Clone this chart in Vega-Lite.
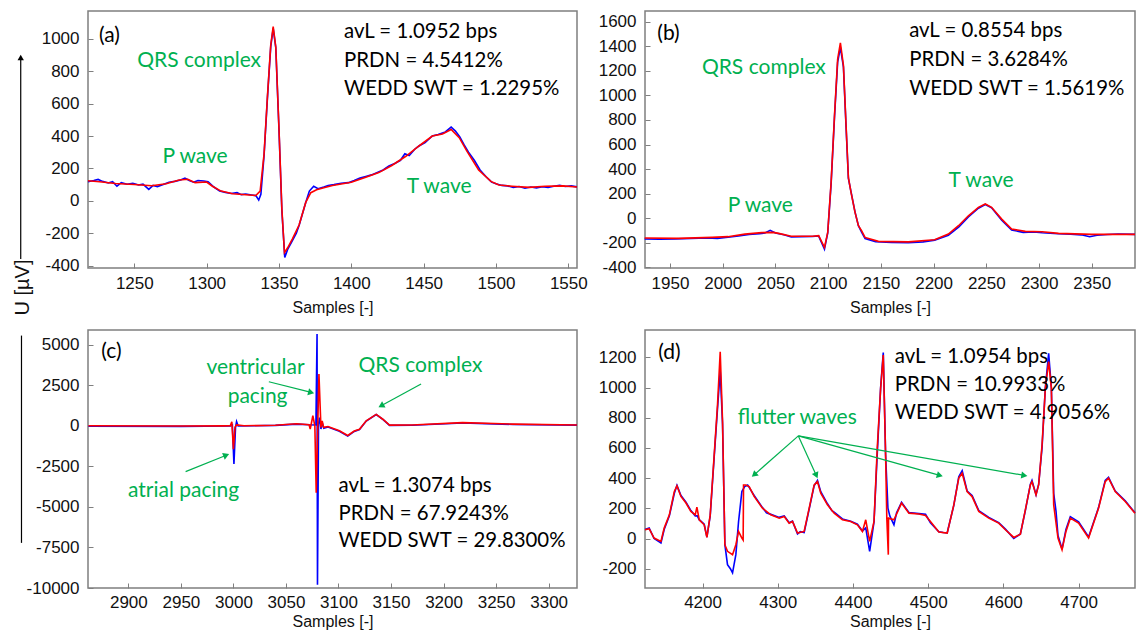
{
"$schema": "https://vega.github.io/schema/vega-lite/v6.json",
"padding": {"left": 11, "top": 10, "right": 5, "bottom": 2},
"config": {
 "font": "Liberation Sans",
 "view": {"stroke": "#7f7f7f", "strokeWidth": 1.5},
 "axis": {"grid": false, "domain": false, "tickSize": -5, "tickColor": "#7f7f7f", "labelFont": "Liberation Sans", "labelFontSize": 17, "labelColor": "#111111", "titleFont": "Liberation Sans", "titleFontSize": 16, "titleFontWeight": "normal", "titleColor": "#111111", "labelOverlap": false, "labelFlush": false, "labelExpr": "'' + datum.value"},
 "axisX": {"labelPadding": 12, "titlePadding": 8},
 "axisY": {"labelPadding": 14},
 "text": {"font": "Lato", "fontSize": 21}
},
"datasets": {
 "a_red": [{"x":1218,"y":124},{"x":1226,"y":118},{"x":1237,"y":107},{"x":1250,"y":101},{"x":1262,"y":93},{"x":1272,"y":105},{"x":1281,"y":128},{"x":1287,"y":133},{"x":1292,"y":112},{"x":1300,"y":116},{"x":1304,"y":90},{"x":1310,"y":60},{"x":1318,"y":43},{"x":1327,"y":37},{"x":1334,"y":33},{"x":1337,"y":60},{"x":1339.7,"y":290},{"x":1342,"y":640},{"x":1344.3,"y":960},{"x":1346,"y":1075},{"x":1347.8,"y":950},{"x":1350,"y":450},{"x":1352,"y":-50},{"x":1353.8,"y":-320},{"x":1356,"y":-290},{"x":1359.3,"y":-235},{"x":1363.9,"y":-150},{"x":1368.5,"y":-10},{"x":1372,"y":50},{"x":1376,"y":68},{"x":1381,"y":80},{"x":1387,"y":95},{"x":1400,"y":115},{"x":1410,"y":146},{"x":1419,"y":174},{"x":1428,"y":218},{"x":1437.7,"y":275},{"x":1447,"y":340},{"x":1456,"y":400},{"x":1463,"y":413},{"x":1469,"y":440},{"x":1474.6,"y":390},{"x":1480,"y":305},{"x":1488,"y":190},{"x":1496.5,"y":120},{"x":1502,"y":97},{"x":1511,"y":90},{"x":1523,"y":83},{"x":1534,"y":90},{"x":1546,"y":92},{"x":1556,"y":85}],
 "a_blue": [{"x":1218,"y":118},{"x":1222,"y":125},{"x":1225,"y":132},{"x":1228,"y":120},{"x":1232,"y":110},{"x":1235,"y":118},{"x":1238,"y":90},{"x":1241,"y":112},{"x":1245,"y":102},{"x":1249,"y":108},{"x":1253,"y":98},{"x":1256,"y":103},{"x":1260,"y":70},{"x":1263,"y":95},{"x":1266,"y":88},{"x":1270,"y":100},{"x":1274,"y":115},{"x":1278,"y":120},{"x":1282,"y":128},{"x":1285,"y":140},{"x":1288,"y":125},{"x":1291,"y":115},{"x":1294,"y":125},{"x":1298,"y":122},{"x":1301,"y":118},{"x":1305,"y":85},{"x":1309,"y":60},{"x":1313,"y":52},{"x":1317,"y":45},{"x":1321,"y":50},{"x":1324,"y":38},{"x":1327,"y":42},{"x":1331,"y":36},{"x":1334,"y":32},{"x":1336,"y":5},{"x":1337.5,"y":40},{"x":1339.7,"y":280},{"x":1342,"y":630},{"x":1344.3,"y":950},{"x":1346,"y":1065},{"x":1347.8,"y":945},{"x":1350,"y":440},{"x":1352,"y":-60},{"x":1354,"y":-350},{"x":1356,"y":-300},{"x":1359,"y":-250},{"x":1362,"y":-200},{"x":1364,"y":-150},{"x":1368.5,"y":-10},{"x":1371,"y":60},{"x":1374,"y":90},{"x":1377,"y":75},{"x":1381,"y":85},{"x":1384,"y":95},{"x":1388,"y":100},{"x":1393,"y":108},{"x":1398,"y":112},{"x":1402,"y":125},{"x":1406,"y":140},{"x":1410,"y":150},{"x":1414,"y":160},{"x":1418,"y":175},{"x":1422,"y":190},{"x":1426,"y":215},{"x":1430,"y":230},{"x":1434,"y":250},{"x":1437,"y":290},{"x":1440,"y":280},{"x":1444,"y":320},{"x":1447,"y":340},{"x":1451,"y":360},{"x":1456,"y":400},{"x":1460,"y":410},{"x":1465,"y":425},{"x":1469,"y":455},{"x":1472,"y":430},{"x":1475,"y":395},{"x":1478,"y":345},{"x":1481,"y":300},{"x":1485,"y":250},{"x":1489,"y":190},{"x":1493,"y":150},{"x":1497,"y":115},{"x":1500,"y":105},{"x":1504,"y":95},{"x":1508,"y":92},{"x":1512,"y":82},{"x":1516,"y":88},{"x":1520,"y":78},{"x":1524,"y":85},{"x":1528,"y":80},{"x":1532,"y":87},{"x":1536,"y":82},{"x":1540,"y":90},{"x":1544,"y":95},{"x":1548,"y":88},{"x":1552,"y":92},{"x":1556,"y":86}],
 "b_red": [{"x":1926,"y":-161},{"x":1958,"y":-164},{"x":1990,"y":-156},{"x":2005,"y":-150},{"x":2021,"y":-129},{"x":2037,"y":-117},{"x":2048,"y":-115},{"x":2053,"y":-123},{"x":2065,"y":-147},{"x":2085,"y":-147},{"x":2091,"y":-142},{"x":2096.5,"y":-237},{"x":2099.6,"y":-115},{"x":2102.8,"y":292},{"x":2106,"y":835},{"x":2109,"y":1296},{"x":2111.6,"y":1427},{"x":2114.5,"y":1242},{"x":2117,"y":753},{"x":2119.2,"y":330},{"x":2121.7,"y":211},{"x":2125.5,"y":48},{"x":2128.7,"y":-61},{"x":2131.8,"y":-102},{"x":2135,"y":-156},{"x":2147.6,"y":-188},{"x":2176,"y":-192},{"x":2201,"y":-175},{"x":2214,"y":-129},{"x":2223.6,"y":-61},{"x":2233,"y":20},{"x":2242.5,"y":89},{"x":2249,"y":116},{"x":2255,"y":89},{"x":2264.6,"y":-7},{"x":2274,"y":-88},{"x":2287,"y":-107},{"x":2303,"y":-110},{"x":2318.5,"y":-123},{"x":2350,"y":-131},{"x":2391,"y":-131}],
 "b_blue": [{"x":1926,"y":-169},{"x":1940,"y":-170},{"x":1955,"y":-168},{"x":1970,"y":-165},{"x":1985,"y":-160},{"x":1995,"y":-164},{"x":2005,"y":-155},{"x":2015,"y":-145},{"x":2025,"y":-132},{"x":2035,"y":-125},{"x":2040,"y":-120},{"x":2045,"y":-98},{"x":2050,"y":-120},{"x":2058,"y":-135},{"x":2065,"y":-152},{"x":2075,"y":-150},{"x":2085,"y":-148},{"x":2091,"y":-145},{"x":2096.5,"y":-251},{"x":2099.6,"y":-120},{"x":2102.8,"y":280},{"x":2106,"y":820},{"x":2109,"y":1270},{"x":2111.6,"y":1390},{"x":2114.5,"y":1230},{"x":2117,"y":740},{"x":2119.2,"y":325},{"x":2121.7,"y":215},{"x":2125.5,"y":50},{"x":2128.7,"y":-60},{"x":2131.8,"y":-115},{"x":2135,"y":-165},{"x":2145,"y":-190},{"x":2160,"y":-198},{"x":2176,"y":-200},{"x":2190,"y":-192},{"x":2201,"y":-178},{"x":2214,"y":-138},{"x":2224,"y":-70},{"x":2233,"y":10},{"x":2242.5,"y":82},{"x":2249,"y":112},{"x":2255,"y":85},{"x":2264.6,"y":-15},{"x":2274,"y":-95},{"x":2285,"y":-115},{"x":2295,"y":-112},{"x":2303,"y":-118},{"x":2318,"y":-126},{"x":2330,"y":-130},{"x":2340,"y":-135},{"x":2348,"y":-150},{"x":2355,"y":-138},{"x":2365,"y":-132},{"x":2375,"y":-128},{"x":2391,"y":-131}],
 "c_red": [{"x":2862,"y":0},{"x":2950,"y":-20},{"x":2990,"y":-10},{"x":2997,"y":0},{"x":2998.5,"y":250},{"x":3000,"y":-1450},{"x":3001.5,"y":-100},{"x":3003,"y":50},{"x":3010,"y":0},{"x":3040,"y":30},{"x":3060,"y":120},{"x":3072,"y":60},{"x":3073.1,"y":-210},{"x":3075.6,"y":615},{"x":3077.5,"y":0},{"x":3078.8,"y":-4130},{"x":3081.4,"y":3190},{"x":3083.3,"y":-100},{"x":3084.5,"y":300},{"x":3085.8,"y":-100},{"x":3090,"y":-50},{"x":3100.9,"y":-315},{"x":3108.8,"y":-600},{"x":3115,"y":-330},{"x":3120,"y":-220},{"x":3126.4,"y":300},{"x":3135.9,"y":700},{"x":3142.2,"y":400},{"x":3148.6,"y":40},{"x":3170,"y":50},{"x":3218,"y":190},{"x":3266,"y":100},{"x":3327,"y":50}],
 "c_blue": [{"x":2862,"y":-30},{"x":2950,"y":-40},{"x":2997,"y":-20},{"x":2999,"y":50},{"x":3000.5,"y":-2350},{"x":3002,"y":-100},{"x":3003,"y":250},{"x":3004.5,"y":-20},{"x":3040,"y":20},{"x":3060,"y":100},{"x":3072,"y":60},{"x":3078.5,"y":50},{"x":3079.6,"y":5650},{"x":3080,"y":-9800},{"x":3081,"y":100},{"x":3082,"y":500},{"x":3083.3,"y":-200},{"x":3084.5,"y":200},{"x":3086,"y":-150},{"x":3090,"y":-80},{"x":3100.9,"y":-340},{"x":3108.8,"y":-640},{"x":3115,"y":-350},{"x":3120,"y":-230},{"x":3126.4,"y":290},{"x":3135.9,"y":690},{"x":3142.2,"y":390},{"x":3148.6,"y":20},{"x":3170,"y":30},{"x":3218,"y":170},{"x":3266,"y":80},{"x":3327,"y":40}],
 "d_red": [{"x":4123.5,"y":58},{"x":4129,"y":65},{"x":4135.6,"y":3},{"x":4144.7,"y":-19},{"x":4149,"y":69},{"x":4155.9,"y":157},{"x":4162.5,"y":312},{"x":4166,"y":349},{"x":4171.3,"y":279},{"x":4178,"y":235},{"x":4184.5,"y":179},{"x":4190.3,"y":157},{"x":4192.5,"y":208},{"x":4195.6,"y":124},{"x":4202.2,"y":91},{"x":4205.8,"y":7},{"x":4210.2,"y":157},{"x":4215.5,"y":554},{"x":4219.9,"y":885},{"x":4223.5,"y":1238},{"x":4226.6,"y":775},{"x":4229.7,"y":-41},{"x":4233.2,"y":-85},{"x":4239.9,"y":-107},{"x":4244.3,"y":-41},{"x":4247.9,"y":47},{"x":4252.3,"y":3},{"x":4254,"y":-10},{"x":4254.5,"y":355},{"x":4257.6,"y":355},{"x":4262,"y":344},{"x":4268.6,"y":279},{"x":4279.7,"y":201},{"x":4290.8,"y":157},{"x":4302,"y":135},{"x":4308.6,"y":146},{"x":4315.2,"y":102},{"x":4319.6,"y":113},{"x":4326.3,"y":36},{"x":4335.1,"y":47},{"x":4341.8,"y":201},{"x":4348.4,"y":355},{"x":4352.8,"y":377},{"x":4357.2,"y":300},{"x":4366.1,"y":223},{"x":4375,"y":168},{"x":4386,"y":124},{"x":4397,"y":113},{"x":4405.9,"y":91},{"x":4412.6,"y":47},{"x":4417,"y":124},{"x":4422.2,"y":-19},{"x":4428,"y":113},{"x":4432.3,"y":600},{"x":4436.8,"y":995},{"x":4440.3,"y":1216},{"x":4443.4,"y":554},{"x":4445,"y":135},{"x":4447,"y":-107},{"x":4447.3,"y":135},{"x":4454.5,"y":124},{"x":4464.6,"y":235},{"x":4474.4,"y":168},{"x":4487.6,"y":162},{"x":4496.5,"y":153},{"x":4503,"y":113},{"x":4514.2,"y":43},{"x":4525.3,"y":36},{"x":4534.1,"y":223},{"x":4540.7,"y":400},{"x":4545.2,"y":433},{"x":4551.8,"y":311},{"x":4558.4,"y":278},{"x":4567.3,"y":179},{"x":4580.6,"y":135},{"x":4593.8,"y":102},{"x":4602.7,"y":58},{"x":4613.8,"y":7},{"x":4622.6,"y":29},{"x":4629.2,"y":190},{"x":4635.9,"y":355},{"x":4638,"y":377},{"x":4643.4,"y":289},{"x":4646.9,"y":355},{"x":4651.4,"y":620},{"x":4655.8,"y":995},{"x":4660.2,"y":1172},{"x":4663.8,"y":995},{"x":4666.9,"y":223},{"x":4672.6,"y":3},{"x":4678,"y":-74},{"x":4683.2,"y":47},{"x":4689,"y":135},{"x":4700,"y":102},{"x":4713.3,"y":3},{"x":4726.5,"y":201},{"x":4735.4,"y":377},{"x":4739.8,"y":400},{"x":4748.7,"y":311},{"x":4762,"y":245},{"x":4775,"y":168}],
 "d_blue": [{"x":4123.5,"y":60},{"x":4129,"y":70},{"x":4135.6,"y":0},{"x":4144.7,"y":-30},{"x":4149,"y":60},{"x":4155.9,"y":150},{"x":4162.5,"y":300},{"x":4166,"y":352},{"x":4171.3,"y":285},{"x":4178,"y":240},{"x":4184.5,"y":185},{"x":4190.3,"y":150},{"x":4193,"y":150},{"x":4195.6,"y":125},{"x":4202.2,"y":95},{"x":4205.8,"y":10},{"x":4210.2,"y":150},{"x":4215.5,"y":540},{"x":4219.9,"y":860},{"x":4223.5,"y":1110},{"x":4226.6,"y":760},{"x":4229.7,"y":-41},{"x":4233.2,"y":-173},{"x":4237,"y":-200},{"x":4239.9,"y":-228},{"x":4244.3,"y":-107},{"x":4247.9,"y":113},{"x":4252.3,"y":311},{"x":4256,"y":344},{"x":4260,"y":355},{"x":4268.6,"y":285},{"x":4279.7,"y":205},{"x":4285,"y":170},{"x":4290.8,"y":160},{"x":4302,"y":140},{"x":4308.6,"y":150},{"x":4315.2,"y":105},{"x":4319.6,"y":115},{"x":4326.3,"y":30},{"x":4330,"y":45},{"x":4335.1,"y":40},{"x":4341.8,"y":195},{"x":4348.4,"y":350},{"x":4352.8,"y":385},{"x":4357.2,"y":310},{"x":4366.1,"y":230},{"x":4372,"y":185},{"x":4375,"y":175},{"x":4386,"y":130},{"x":4397,"y":115},{"x":4405.9,"y":95},{"x":4412.6,"y":50},{"x":4417,"y":70},{"x":4422.2,"y":-85},{"x":4428,"y":110},{"x":4432.3,"y":560},{"x":4436.8,"y":1000},{"x":4440.3,"y":1233},{"x":4443.4,"y":554},{"x":4446.5,"y":201},{"x":4449,"y":150},{"x":4454.5,"y":91},{"x":4458,"y":170},{"x":4464.6,"y":240},{"x":4474.4,"y":172},{"x":4487.6,"y":165},{"x":4496.5,"y":160},{"x":4503,"y":105},{"x":4514.2,"y":45},{"x":4520,"y":40},{"x":4525.3,"y":38},{"x":4534.1,"y":220},{"x":4540.7,"y":410},{"x":4545.2,"y":450},{"x":4551.8,"y":315},{"x":4558.4,"y":285},{"x":4567.3,"y":185},{"x":4580.6,"y":140},{"x":4593.8,"y":105},{"x":4602.7,"y":62},{"x":4613.8,"y":0},{"x":4622.6,"y":30},{"x":4629.2,"y":185},{"x":4635.9,"y":360},{"x":4638,"y":385},{"x":4643.4,"y":290},{"x":4646.9,"y":360},{"x":4651.4,"y":600},{"x":4655.8,"y":1000},{"x":4660.2,"y":1227},{"x":4663.8,"y":1000},{"x":4666.9,"y":300},{"x":4670,"y":180},{"x":4672.6,"y":20},{"x":4678,"y":-70},{"x":4683.2,"y":60},{"x":4689,"y":145},{"x":4700,"y":110},{"x":4713.3,"y":10},{"x":4726.5,"y":205},{"x":4735.4,"y":385},{"x":4739.8,"y":405},{"x":4748.7,"y":315},{"x":4762,"y":250},{"x":4775,"y":170}]
},
"columns": 2,
"bounds": "flush",
"spacing": {"row": 62, "column": 68},
"concat": [
 {
  "width": 489, "height": 257,
  "encoding": {
   "x": {"field": "x", "type": "quantitative", "scale": {"domain": [1218, 1556], "nice": false, "zero": false}, "axis": {"values": [1250,1300,1350,1400,1450,1500,1550], "title": "Samples [-]"}},
   "y": {"field": "y", "type": "quantitative", "scale": {"domain": [-415, 1172], "nice": false, "zero": false}, "axis": {"values": [-400,-200,0,200,400,600,800,1000], "title": "U [µV]", "titleX": -66, "titleY": 276, "titleFontSize": 20, "titleAlign": "center", "titleBaseline": "middle", "titleAngle": -90}}
  },
  "layer": [
   {"data": {"name": "a_blue"}, "mark": {"type": "line", "color": "#0000ff", "strokeWidth": 1.6}},
   {"data": {"name": "a_red"}, "mark": {"type": "line", "color": "#ff0000", "strokeWidth": 1.6}},
   {"data": {"values": [{"x": 1171.5, "y": 880, "y2": -360}]}, "mark": {"type": "rule", "color": "#000000", "strokeWidth": 1.2}, "encoding": {"y2": {"field": "y2"}}},
   {"data": {"values": [{"x": 1171.5, "y": 885}]}, "mark": {"type": "point", "shape": "triangle-up", "filled": true, "color": "#000000", "size": 40, "opacity": 1}},
   {"data": {"values": [{"x": 1225.6, "y": 1017, "t": "(a)"}]}, "mark": {"type": "text", "align": "left", "color": "#000000"}, "encoding": {"text": {"field": "t"}}},
   {"data": {"values": [{"x": 1395, "y": 1043, "t": "avL = 1.0952 bps"}, {"x": 1395, "y": 862, "t": "PRDN = 4.5412%"}, {"x": 1395, "y": 690, "t": "WEDD SWT = 1.2295%"}]}, "mark": {"type": "text", "align": "left", "color": "#000000", "fontSize": 20.4}, "encoding": {"text": {"field": "t"}}},
   {"data": {"values": [{"x": 1294.8, "y": 862, "t": "QRS complex"}, {"x": 1292, "y": 273, "t": "P wave"}, {"x": 1460.7, "y": 87, "t": "T wave"}]}, "mark": {"type": "text", "align": "center", "color": "#00b050"}, "encoding": {"text": {"field": "t"}}}
  ]
 },
 {
  "width": 490, "height": 257,
  "encoding": {
   "x": {"field": "x", "type": "quantitative", "scale": {"domain": [1926.3, 2391], "nice": false, "zero": false}, "axis": {"values": [1950,2000,2050,2100,2150,2200,2250,2300,2350], "title": "Samples [-]"}},
   "y": {"field": "y", "type": "quantitative", "scale": {"domain": [-405, 1687], "nice": false, "zero": false}, "axis": {"values": [-400,-200,0,200,400,600,800,1000,1200,1400,1600], "title": null}}
  },
  "layer": [
   {"data": {"name": "b_blue"}, "mark": {"type": "line", "color": "#0000ff", "strokeWidth": 1.6}},
   {"data": {"name": "b_red"}, "mark": {"type": "line", "color": "#ff0000", "strokeWidth": 1.6}},
   {"data": {"values": [{"x": 1938, "y": 1500, "t": "(b)"}]}, "mark": {"type": "text", "align": "left", "color": "#000000"}, "encoding": {"text": {"field": "t"}}},
   {"data": {"values": [{"x": 2176.8, "y": 1527, "t": "avL = 0.8554 bps"}, {"x": 2176.8, "y": 1288, "t": "PRDN = 3.6284%"}, {"x": 2176.8, "y": 1056, "t": "WEDD SWT = 1.5619%"}]}, "mark": {"type": "text", "align": "left", "color": "#000000", "fontSize": 20.4}, "encoding": {"text": {"field": "t"}}},
   {"data": {"values": [{"x": 2039, "y": 1223, "t": "QRS complex"}, {"x": 2035.7, "y": 102, "t": "P wave"}, {"x": 2245, "y": 305, "t": "T wave"}]}, "mark": {"type": "text", "align": "center", "color": "#00b050"}, "encoding": {"text": {"field": "t"}}}
  ]
 },
 {
  "width": 489, "height": 258,
  "encoding": {
   "x": {"field": "x", "type": "quantitative", "scale": {"domain": [2861.6, 3327], "nice": false, "zero": false}, "axis": {"values": [2900,2950,3000,3050,3100,3150,3200,3250,3300], "title": "Samples [-]", "labelPadding": 11, "titlePadding": 3}},
   "y": {"field": "y", "type": "quantitative", "scale": {"domain": [-10000, 5900], "nice": false, "zero": false}, "axis": {"values": [-10000,-7500,-5000,-2500,0,2500,5000], "title": null}}
  },
  "layer": [
   {"data": {"name": "c_blue"}, "mark": {"type": "line", "color": "#0000ff", "strokeWidth": 1.6}},
   {"data": {"name": "c_red"}, "mark": {"type": "line", "color": "#ff0000", "strokeWidth": 1.6}},
   {"data": {"values": [{"x": 2798.3, "y": 5556, "y2": -7219}]}, "mark": {"type": "rule", "color": "#000000", "strokeWidth": 1.2}, "encoding": {"y2": {"field": "y2"}}},
   {"data": {"values": [{"x": 2954.5, "y": -2831, "x2": 2993.2, "y2": -1817}, {"x": 3033.7, "y": 2713, "x2": 3074, "y2": 2052}, {"x": 3178.6, "y": 2571, "x2": 3140.6, "y2": 1230}]}, "mark": {"type": "rule", "color": "#00b050", "strokeWidth": 1.2}, "encoding": {"x2": {"field": "x2"}, "y2": {"field": "y2"}}},
   {"data": {"values": [{"x": 2993.2, "y": -1817}]}, "mark": {"type": "point", "shape": "triangle-up", "filled": true, "color": "#00b050", "size": 50, "opacity": 1, "angle": 68}},
   {"data": {"values": [{"x": 3074, "y": 2052}]}, "mark": {"type": "point", "shape": "triangle-up", "filled": true, "color": "#00b050", "size": 50, "opacity": 1, "angle": 104}},
   {"data": {"values": [{"x": 3140.6, "y": 1230}]}, "mark": {"type": "point", "shape": "triangle-up", "filled": true, "color": "#00b050", "size": 50, "opacity": 1, "angle": 241}},
   {"data": {"values": [{"x": 2874.3, "y": 4524, "t": "(c)"}]}, "mark": {"type": "text", "align": "left", "color": "#000000"}, "encoding": {"text": {"field": "t"}}},
   {"data": {"values": [{"x": 3100, "y": -3714, "t": "avL = 1.3074 bps"}, {"x": 3100, "y": -5464, "t": "PRDN = 67.9243%"}, {"x": 3100, "y": -7114, "t": "WEDD SWT = 29.8300%"}]}, "mark": {"type": "text", "align": "left", "color": "#000000", "fontSize": 20.4}, "encoding": {"text": {"field": "t"}}},
   {"data": {"values": [{"x": 3021, "y": 3535, "t": "ventricular"}, {"x": 3023, "y": 1786, "t": "pacing"}, {"x": 2952.6, "y": -4024, "t": "atrial pacing"}, {"x": 3178, "y": 3702, "t": "QRS complex"}]}, "mark": {"type": "text", "align": "center", "color": "#00b050"}, "encoding": {"text": {"field": "t"}}}
  ]
 },
 {
  "width": 490, "height": 258,
  "encoding": {
   "x": {"field": "x", "type": "quantitative", "scale": {"domain": [4123.5, 4775], "nice": false, "zero": false}, "axis": {"values": [4200,4300,4400,4500,4600,4700], "title": "Samples [-]", "labelPadding": 11, "titlePadding": 3}},
   "y": {"field": "y", "type": "quantitative", "scale": {"domain": [-328, 1382], "nice": false, "zero": false}, "axis": {"values": [-200,0,200,400,600,800,1000,1200], "title": null}}
  },
  "layer": [
   {"data": {"name": "d_blue"}, "mark": {"type": "line", "color": "#0000ff", "strokeWidth": 1.6}},
   {"data": {"name": "d_red"}, "mark": {"type": "line", "color": "#ff0000", "strokeWidth": 1.6}},
   {"data": {"values": [{"x": 4327.4, "y": 680, "x2": 4268.6, "y2": 422}, {"x": 4327.4, "y": 680, "x2": 4351.3, "y2": 418}, {"x": 4327.4, "y": 680, "x2": 4515.5, "y2": 418}, {"x": 4327.4, "y": 680, "x2": 4627.9, "y2": 418}]}, "mark": {"type": "rule", "color": "#00b050", "strokeWidth": 1.2}, "encoding": {"x2": {"field": "x2"}, "y2": {"field": "y2"}}},
   {"data": {"values": [{"x": 4268.6, "y": 422}]}, "mark": {"type": "point", "shape": "triangle-up", "filled": true, "color": "#00b050", "size": 50, "opacity": 1, "angle": 229}},
   {"data": {"values": [{"x": 4351.3, "y": 418}]}, "mark": {"type": "point", "shape": "triangle-up", "filled": true, "color": "#00b050", "size": 50, "opacity": 1, "angle": 156}},
   {"data": {"values": [{"x": 4515.5, "y": 418}]}, "mark": {"type": "point", "shape": "triangle-up", "filled": true, "color": "#00b050", "size": 50, "opacity": 1, "angle": 106}},
   {"data": {"values": [{"x": 4627.9, "y": 418}]}, "mark": {"type": "point", "shape": "triangle-up", "filled": true, "color": "#00b050", "size": 50, "opacity": 1, "angle": 100}},
   {"data": {"values": [{"x": 4141, "y": 1227, "t": "(d)"}]}, "mark": {"type": "text", "align": "left", "color": "#000000"}, "encoding": {"text": {"field": "t"}}},
   {"data": {"values": [{"x": 4455.7, "y": 1205, "t": "avL = 1.0954 bps"}, {"x": 4455.7, "y": 1018, "t": "PRDN = 10.9933%"}, {"x": 4455.7, "y": 830, "t": "WEDD SWT = 4.9056%"}]}, "mark": {"type": "text", "align": "left", "color": "#000000", "fontSize": 20.4}, "encoding": {"text": {"field": "t"}}},
   {"data": {"values": [{"x": 4326, "y": 797, "t": "flutter waves"}]}, "mark": {"type": "text", "align": "center", "color": "#00b050"}, "encoding": {"text": {"field": "t"}}}
  ]
 }
]
}
